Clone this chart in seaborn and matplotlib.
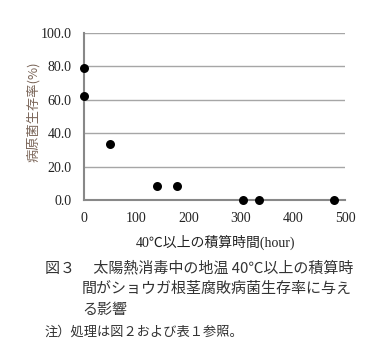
import matplotlib
matplotlib.use("Agg")
import matplotlib.pyplot as plt
import seaborn as sns
import pandas as pd

hours = [0, 0, 50, 140, 178, 304, 335, 478]
survival = [78.9, 62.3, 33.4, 8.4, 8.4, 0.0, 0.0, 0.0]
x_ticks = [0, 100, 200, 300, 400, 500]
y_ticks = [0, 20, 40, 60, 80, 100]
x_label = "40℃以上の積算時間(hour)"
y_label = "病原菌生存率(%)"
caption = ["図３　 太陽熱消毒中の地温 40℃以上の積算時",
           "間がショウガ根茎腐敗病菌生存率に与え",
           "る影響"]
note = "注）処理は図２および表１参照。"

sns.set_style("white")
jp = ["Noto Sans CJK JP", "DejaVu Sans"]
serif = ["Liberation Serif", "DejaVu Serif"]

df = pd.DataFrame({"hours": hours, "survival": survival})

fig = plt.figure(figsize=(3.9, 3.62), dpi=100)
ax = fig.add_axes([84/390, 1-200/362, (345-84)/390, (200-33)/362])

for yv in y_ticks[1:]:
    ax.axhline(yv, color="#a6a6a6", lw=1.0, zorder=0)

sns.scatterplot(data=df, x="hours", y="survival", ax=ax, color="black",
                s=42, edgecolor="black", linewidth=0, clip_on=False, zorder=5)

ax.set_xlim(0, 500)
ax.set_ylim(0, 100)
ax.set_xticks(x_ticks)
ax.set_yticks(y_ticks)
ax.set_xticklabels([str(v) for v in x_ticks], fontfamily=serif, fontsize=10)
ax.set_yticklabels([f"{v:.1f}" for v in y_ticks], fontfamily=serif, fontsize=10)
ax.tick_params(axis="both", length=4, width=1, color="#888888", direction="out", pad=5,
               labelcolor="#222222")
for s in ["top", "right"]:
    ax.spines[s].set_visible(False)
for s in ["left", "bottom"]:
    ax.spines[s].set_color("#888888")
    ax.spines[s].set_linewidth(1.5)
ax.set_xlabel("")
ax.set_ylabel("")

fig.text(216/390, 1-242/362, x_label, ha="center", va="center", fontsize=10,
         family=["Liberation Serif", "Noto Sans CJK JP"], color="#222222")
fig.text(33/390, 1-112/362, y_label, ha="center", va="center", rotation=90,
         fontsize=9.5, family=jp, color="#7a6558")

cap_kw = dict(ha="left", va="center", fontsize=10.8, family=jp, color="#333333")
fig.text(45/390, 1-268/362, caption[0], **cap_kw)
fig.text(82/390, 1-289/362, caption[1], **cap_kw)
fig.text(82/390, 1-310/362, caption[2], **cap_kw)
fig.text(45/390, 1-332/362, note, ha="left", va="center", fontsize=9.5,
         family=jp, color="#333333")

fig.savefig("out.png", dpi=100)
